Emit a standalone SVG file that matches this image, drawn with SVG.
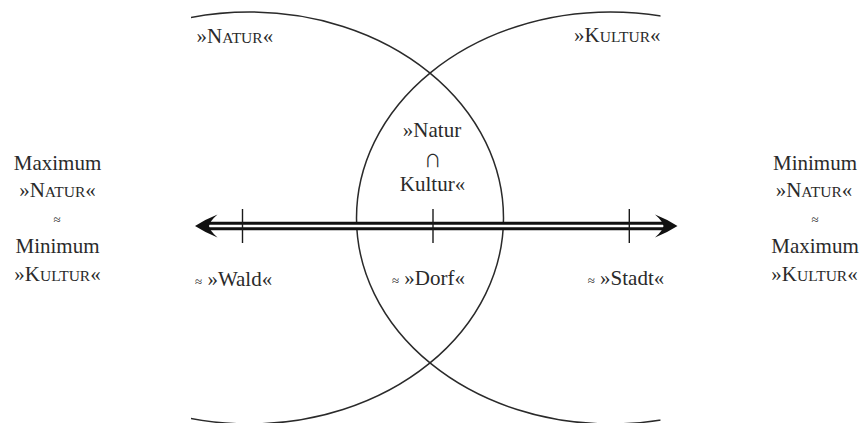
<svg xmlns="http://www.w3.org/2000/svg" width="861" height="423" viewBox="0 0 861 423">
<style>
.t{font-family:"Liberation Serif","DejaVu Serif",serif;font-size:21px;fill:#2a2a2a}
.sc{font-size:15.5px}
.ap{font-size:13px}
.ell{fill:none;stroke:#2a2a2a;stroke-width:1.5}
.tick{stroke:#1a1a1a;stroke-width:1.4}
</style>
<defs>
<clipPath id="clip"><rect x="191" y="0" width="469.5" height="423"/></clipPath>
</defs>
<g id="set-natur" clip-path="url(#clip)">
<ellipse class="ell" cx="249.5" cy="218" rx="254" ry="206"/>
</g>
<g id="set-kultur" clip-path="url(#clip)">
<ellipse class="ell" cx="610.5" cy="218" rx="254" ry="206"/>
</g>
<g id="connectors">
<line x1="206" y1="226" x2="667" y2="226" stroke="#111" stroke-width="8.6"/>
<line x1="204" y1="226" x2="669" y2="226" stroke="#fff" stroke-width="2.6"/>
<path d="M195,226 Q206,219 217.5,214.5 Q210,221 209,226 Q210,231 217.5,237.5 Q206,233 195,226 Z" fill="#111"/>
<path d="M677.5,226 Q666.5,219 655,214.5 Q662.5,221 663.5,226 Q662.5,231 655,237.5 Q666.5,233 677.5,226 Z" fill="#111"/>
<line class="tick" x1="242.5" y1="209" x2="242.5" y2="243"/>
<line class="tick" x1="433" y1="209" x2="433" y2="243"/>
<line class="tick" x1="629.3" y1="209" x2="629.3" y2="243"/>
</g>
<g id="label-natur-top"><text class="t" x="196.5" y="43">»N<tspan class="sc">ATUR</tspan>«</text></g>
<g id="label-kultur-top"><text class="t" x="660.5" y="42" text-anchor="end">»K<tspan class="sc">ULTUR</tspan>«</text></g>
<g id="label-left">
<text class="t" x="57.5" y="170" text-anchor="middle">Maximum</text>
<text class="t" x="57.5" y="197" text-anchor="middle">»N<tspan class="sc">ATUR</tspan>«</text>
<text class="t ap" x="57" y="224" text-anchor="middle">≈</text>
<text class="t" x="57.5" y="253" text-anchor="middle">Minimum</text>
<text class="t" x="57.5" y="281" text-anchor="middle">»K<tspan class="sc">ULTUR</tspan>«</text>
</g>
<g id="label-right">
<text class="t" x="815" y="170" text-anchor="middle">Minimum</text>
<text class="t" x="814" y="197" text-anchor="middle">»N<tspan class="sc">ATUR</tspan>«</text>
<text class="t ap" x="815" y="224" text-anchor="middle">≈</text>
<text class="t" x="815" y="253" text-anchor="middle">Maximum</text>
<text class="t" x="814.5" y="281" text-anchor="middle">»K<tspan class="sc">ULTUR</tspan>«</text>
</g>
<g id="label-intersection">
<text class="t" x="432" y="137" text-anchor="middle">»Natur</text>
<text x="432.7" y="167" text-anchor="middle" style="font-family:'Noto Sans CJK JP','DejaVu Serif',sans-serif;font-size:17px;fill:#2a2a2a">∩</text>
<text class="t" x="432.5" y="191" text-anchor="middle">Kultur«</text>
</g>
<g id="label-wald"><text class="t" x="195" y="286"><tspan class="ap">≈</tspan> »Wald«</text></g>
<g id="label-dorf"><text class="t" x="428.5" y="285" text-anchor="middle"><tspan class="ap">≈</tspan> »Dorf«</text></g>
<g id="label-stadt"><text class="t" x="626" y="285" text-anchor="middle"><tspan class="ap">≈</tspan> »Stadt«</text></g>
</svg>
